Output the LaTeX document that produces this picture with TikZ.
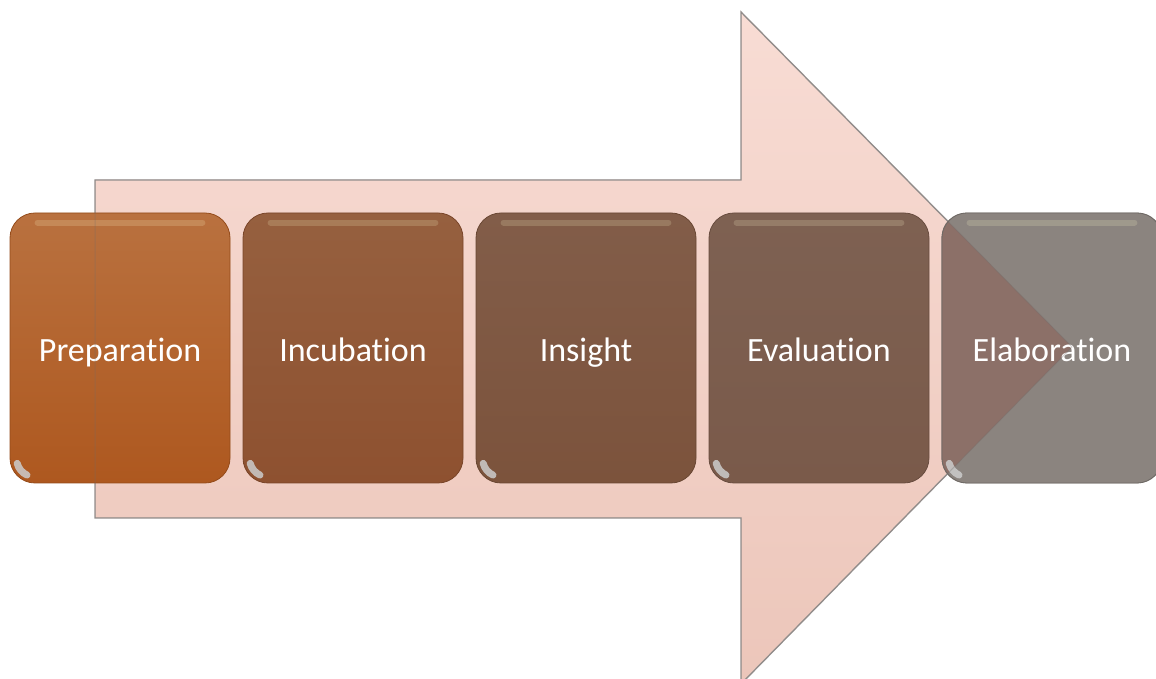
\documentclass[tikz,border=0pt]{standalone}
\usepackage{fontspec}
\setmainfont{Carlito}[Ligatures=NoCommon]
\usetikzlibrary{positioning,backgrounds}
\definecolor{arrowtop}{HTML}{F8DCD4}
\definecolor{arrowbot}{HTML}{ECC6BA}
\definecolor{arrowline}{HTML}{A09A98}
\definecolor{preptop}{HTML}{B9713F}
\definecolor{prepbot}{HTML}{AE581F}
\definecolor{incutop}{HTML}{96603F}
\definecolor{incubot}{HTML}{8E5130}
\definecolor{insitop}{HTML}{825D49}
\definecolor{insibot}{HTML}{7C533C}
\definecolor{evaltop}{HTML}{7E6152}
\definecolor{evalbot}{HTML}{7A5A4A}
\definecolor{elabgray}{HTML}{8B847F}
\definecolor{elabmix}{HTML}{8C7068}
\tikzset{stagebox/.style={rounded corners=12.5pt,minimum width=110pt,minimum height=135pt,
    text=white,font=\fontsize{17}{20}\selectfont,text height=17pt,text depth=3pt,line width=0.4pt}}
\tikzset{stage/.style 2 args={stagebox,draw=#2!85!black,top color=#1,bottom color=#2}}
\tikzset{gloss/.style={white!80!yellow,opacity=0.18,line width=3pt,line cap=round}}
\tikzset{cornerglint/.style={gray!40,opacity=0.85,line width=3.5pt,line cap=round}}
\def\arrowpath{(95,161) -- (95,499) -- (741,499) -- (741,667) -- (1072,332) -- (741,-5) -- (741,161) -- cycle}
\begin{document}
\begin{tikzpicture}[x=0.5pt,y=0.5pt,node distance=6.1pt]
    \useasboundingbox (0,0) rectangle (1156,679);
    \node[stage={preptop}{prepbot}] (prep) at (120,331) {Preparation};
    \node[stage={incutop}{incubot},right=of prep] (incu) {Incubation};
    \node[stage={insitop}{insibot},right=of incu] (insi) {Insight};
    \node[stage={evaltop}{evalbot},right=of insi] (eval) {Evaluation};
    \node[stagebox,draw=elabgray!80!black,right=of eval] (elab) {Elaboration};
    \begin{pgfonlayer}{background}
        \draw[arrowline,line width=0.7pt,top color=arrowtop,bottom color=arrowbot] \arrowpath;
        \fill[elabgray,rounded corners=12.5pt] (elab.south west) rectangle (elab.north east);
        \begin{scope}
            \clip \arrowpath;
            \fill[elabmix,rounded corners=12.5pt] (elab.south west) rectangle (elab.north east);
        \end{scope}
    \end{pgfonlayer}
    % glossy edges of the stages
    \foreach \s in {prep,incu,insi,eval,elab} {
        \draw[gloss] ([shift={(14pt,-5pt)}]\s.north west) -- ([shift={(-14pt,-5pt)}]\s.north east);
        \draw[cornerglint] ([shift={(3.8pt,10pt)}]\s.south west) arc[start angle=195,end angle=245,radius=9pt];
    }
    \draw[arrowline!70!black,line width=0.5pt,opacity=0.3] \arrowpath;
\end{tikzpicture}
\end{document}
